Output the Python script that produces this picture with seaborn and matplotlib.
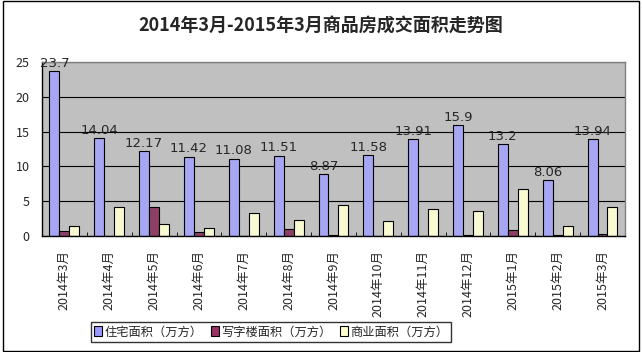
import matplotlib
matplotlib.use("Agg")
import matplotlib.pyplot as plt
import seaborn as sns
import pandas as pd
from matplotlib.patches import Rectangle, Patch

# data
months = ['2014年3月', '2014年4月', '2014年5月', '2014年6月', '2014年7月', '2014年8月',
          '2014年9月', '2014年10月', '2014年11月', '2014年12月', '2015年1月', '2015年2月', '2015年3月']
residential = [23.7, 14.04, 12.17, 11.42, 11.08, 11.51, 8.87, 11.58, 13.91, 15.9, 13.2, 8.06, 13.94]
office = [0.65, 0.0, 4.1, 0.6, 0.0, 0.95, 0.1, 0.0, 0.0, 0.15, 0.85, 0.1, 0.3]
commercial = [1.45, 4.15, 1.75, 1.1, 3.3, 2.25, 4.4, 2.1, 3.85, 3.55, 6.75, 1.4, 4.15]
series_names = ['住宅面积（万方）', '写字楼面积（万方）', '商业面积（万方）']
colors = ['#9999FF', '#993366', '#FFFFCC']

df = pd.DataFrame({
    'month': months * 3,
    'value': residential + office + commercial,
    'series': [series_names[0]] * 13 + [series_names[1]] * 13 + [series_names[2]] * 13,
})

sns.set_style('white')
plt.rcParams['font.family'] = ['Noto Sans CJK SC', 'DejaVu Sans']

fig = plt.figure(figsize=(6.42, 3.52), dpi=100)
ax = fig.add_axes([0.0654, 0.3295, 0.908, 0.4945])
ax.set_facecolor('#C0C0C0')

sns.barplot(data=df, x='month', y='value', hue='series', palette=colors,
            width=0.667, edgecolor='black', linewidth=0.8, ax=ax, legend=False)

ax.set_ylim(0, 25)
ax.set_yticks([0, 5, 10, 15, 20, 25])
ax.yaxis.grid(True, color='black', linewidth=0.8)
ax.set_axisbelow(True)
ax.set_xlim(-0.5, len(months) - 0.5)
ax.set_xlabel('')
ax.set_ylabel('')

# value labels over the residential bars
res_bars = ax.containers[0]
labels = [f'{v:g}' for v in residential]
ax.bar_label(res_bars, labels=labels, padding=1, fontsize=9.5, family=['DejaVu Sans'])

ax.tick_params(axis='x', labelrotation=90, labelsize=9, length=0, pad=10)
ax.tick_params(axis='y', labelsize=9, length=0, pad=9)
ax.set_xticks([i + 0.5 for i in range(len(months) - 1)], minor=True)
ax.tick_params(axis='x', which='minor', direction='in', length=3, color='black', bottom=True)

for s in ['left', 'bottom']:
    ax.spines[s].set_color('black')
    ax.spines[s].set_linewidth(1)
for s in ['top', 'right']:
    ax.spines[s].set_color('#808080')
    ax.spines[s].set_linewidth(1)

fig.text(0.5, 0.925, '2014年3月-2015年3月商品房成交面积走势图', ha='center', va='center',
         fontsize=13, fontweight='bold')

handles = [Patch(facecolor=c, edgecolor='black', linewidth=0.8) for c in colors]
leg = fig.legend(handles, series_names, loc='center', bbox_to_anchor=(271 / 642, 1 - 332 / 352),
                 ncol=3, fontsize=8.8, frameon=True, fancybox=False, edgecolor='black',
                 handlelength=0.7, handleheight=0.9, handletextpad=0.15, columnspacing=0.7,
                 borderpad=0.25)
leg.get_frame().set_linewidth(1)

fig.patches.append(Rectangle((0.004, 0.004), 0.992, 0.992, transform=fig.transFigure,
                             fill=False, edgecolor='black', linewidth=1))

fig.savefig('out.png', dpi=100)
